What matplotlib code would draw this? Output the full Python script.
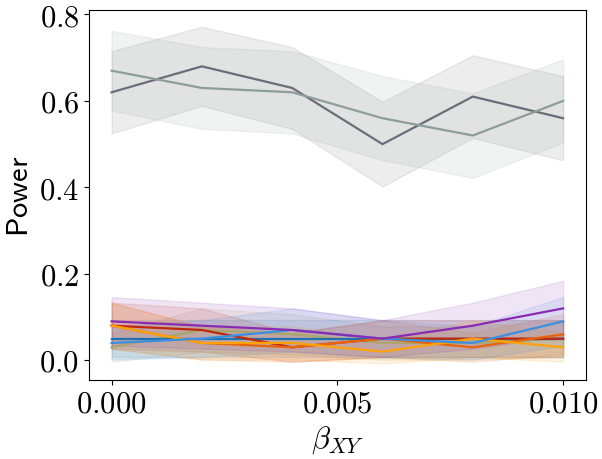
import numpy as np
import matplotlib
matplotlib.use("Agg")
import matplotlib.pyplot as plt
from matplotlib.ticker import FuncFormatter

plt.rcParams['mathtext.fontset'] = 'cm'
plt.rcParams['font.family'] = 'serif'
plt.rcParams['font.serif'] = ['cmr10', 'DejaVu Serif']
plt.rcParams['axes.formatter.use_mathtext'] = True

# beta_XY values
beta = [0.0, 0.002, 0.004, 0.006, 0.008, 0.010]
n_runs = 100  # number of simulations per point (for the 95% CI band)

# power curves
slate = [0.62, 0.68, 0.63, 0.50, 0.61, 0.56]
sage = [0.67, 0.63, 0.62, 0.56, 0.52, 0.60]
olive = [0.03, 0.07, 0.06, 0.04, 0.04, 0.05]
dark_blue = [0.05, 0.05, 0.05, 0.05, 0.05, 0.05]
red = [0.08, 0.07, 0.03, 0.05, 0.05, 0.05]
dark_orange = [0.08, 0.04, 0.03, 0.05, 0.03, 0.06]
orange = [0.08, 0.04, 0.04, 0.02, 0.05, 0.03]
light_blue = [0.04, 0.05, 0.07, 0.05, 0.04, 0.09]
purple = [0.09, 0.08, 0.07, 0.05, 0.08, 0.12]

series = [
    (slate, '#6c6c7a'),
    (sage, '#8c9f97'),
    (olive, '#a9a66c'),
    (dark_blue, '#1f72b0'),
    (red, '#c02808'),
    (dark_orange, '#e8640c'),
    (orange, '#ffa20a'),
    (light_blue, '#3b8fe0'),
    (purple, '#8a2bb4'),
]

fig = plt.figure(figsize=(6.02, 4.6), dpi=100)
ax = fig.add_axes([89 / 602, 1 - 381.3 / 460, 496.7 / 602, 370.3 / 460])

x = np.array(beta)
for vals, col in series:
    p = np.array(vals)
    hw = 1.96 * np.sqrt(p * (1 - p) / n_runs)
    ax.fill_between(x, p - hw, p + hw, color=col, alpha=0.12)
    ax.plot(x, p, color=col, lw=1.6)

ax.set_xticks([0.0, 0.005, 0.010])
ax.set_yticks([0.0, 0.2, 0.4, 0.6, 0.8])
ax.xaxis.set_major_formatter(FuncFormatter(lambda v, pos: r'$%.3f$' % v))
ax.yaxis.set_major_formatter(FuncFormatter(lambda v, pos: r'$%.1f$' % v))
ax.tick_params(labelsize=22)
ax.set_xlabel(r'$\beta_{XY}$', fontsize=22)
ax.set_ylabel(r'$\mathsf{Power}$', fontsize=22)

fig.savefig("out.png", dpi=100)
